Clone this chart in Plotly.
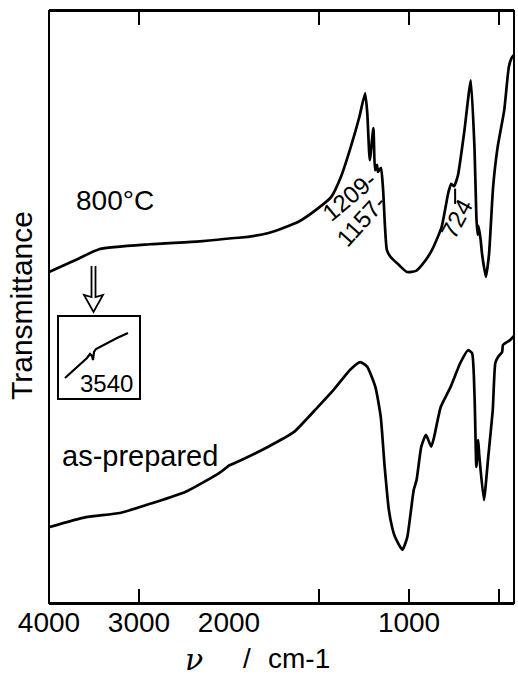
import plotly.graph_objects as go

# ---------------- data ----------------
wn_800 = [4000, 3711, 3436, 2880, 2326, 1946, 1780, 1614, 1504, 1432,
          1378, 1324, 1276, 1244, 1232, 1218, 1198, 1189, 1178, 1173,
          1156, 1144, 1123, 1101, 1056, 1011, 961, 928, 873, 819,
          782, 766, 750, 728, 692, 657, 636, 626, 619, 614,
          602, 595, 573, 556, 533, 508, 471, 446, 430, 417]
T_800 = [55.9, 57.9, 59.8, 60.6, 61.1, 61.7, 62.5, 64.4, 66.7, 68.6,
         72.0, 77.0, 82.1, 86.1, 82.8, 74.8, 80.2, 73.1, 74.0, 72.8,
         73.5, 69.8, 59.6, 58.4, 57.1, 55.9, 56.1, 57.1, 59.6, 63.5,
         69.3, 70.8, 70.4, 72.3, 79.9, 88.3, 76.5, 65.2, 62.2, 63.7,
         61.3, 59.1, 55.1, 58.8, 70.3, 77.0, 83.3, 90.5, 92.1, 92.6]

wn_ap = [4000, 3589, 3212, 2847, 2481, 2106, 1971, 1782, 1639, 1507,
         1419, 1327, 1271, 1232, 1187, 1157, 1137, 1112, 1094, 1077,
         1037, 1010, 989, 974, 958, 932, 906, 877, 861, 824,
         769, 716, 672, 650, 636, 626, 616, 610, 584, 560,
         535, 521, 505, 483, 478, 439, 423, 417]
T_ap = [12.8, 14.5, 15.2, 16.9, 18.8, 22.0, 23.6, 26.4, 28.9, 33.1,
        36.0, 39.4, 40.7, 39.9, 36.5, 31.4, 23.6, 15.7, 12.8, 11.1,
        9.0, 11.1, 15.7, 19.1, 20.8, 26.4, 28.4, 26.4, 28.0, 33.1,
        36.5, 40.5, 42.7, 42.2, 34.8, 23.0, 27.5, 25.0, 17.4, 24.7,
        32.6, 40.5, 41.6, 42.4, 43.6, 44.4, 44.9, 45.1]

# inset: magnified region around 3540 cm-1 of the 800 C spectrum
wn_in = [3652, 3604, 3564, 3552, 3544, 3540, 3536, 3528, 3484, 3444, 3400]
T_in = [20, 31, 40, 44, 42, 38, 46, 49, 55, 60, 65]

x_ticks_hi = [4000, 3000]
x_labels_hi = ["4000", "3000"]
x_ticks_lo = [2000, 1500, 1000, 500]
x_labels_lo = ["2000", "", "1000", ""]

peak_labels = ["1209-", "1157-", "724"]

# ---------------- layout helpers ----------------
W, H = 518, 699
L, R, T, B = 49, 514, 11, 603


def px(x):
    return (x - L) / (R - L)


def py(y):
    return (B - y) / (B - T)


split = 180 / (R - L)  # 4000-2000 occupies half the per-unit width
FONT = "Liberation Sans, Arial, sans-serif"
lw = 2.7
line_style = dict(color="black", width=lw, shape="spline", smoothing=0.5)

fig = go.Figure()
for xa in ["x", "x2"]:
    fig.add_trace(go.Scatter(x=wn_800, y=T_800, xaxis=xa, yaxis="y", mode="lines",
                             line=line_style, showlegend=False, hoverinfo="skip"))
    fig.add_trace(go.Scatter(x=wn_ap, y=T_ap, xaxis=xa, yaxis="y", mode="lines",
                             line=line_style, showlegend=False, hoverinfo="skip"))
fig.add_trace(go.Scatter(x=wn_in, y=T_in, xaxis="x3", yaxis="y3", mode="lines",
                         line=dict(color="black", width=2.2), showlegend=False,
                         hoverinfo="skip"))

axis_common = dict(showgrid=False, zeroline=False, showline=True, mirror="ticks",
                   linecolor="black", linewidth=2, ticks="inside", ticklen=14,
                   tickwidth=2, tickcolor="black", ticklabelstandoff=-7,
                   tickfont=dict(family=FONT, size=28, color="black"))

fig.update_layout(
    width=W, height=H,
    margin=dict(l=L, r=W - R, t=T, b=H - B),
    paper_bgcolor="white", plot_bgcolor="white",
    xaxis=dict(domain=[0, split], range=[4000, 2000], tickvals=x_ticks_hi,
               ticktext=x_labels_hi, anchor="y", **axis_common),
    xaxis2=dict(domain=[split, 1], range=[2000, 417], tickvals=x_ticks_lo,
                ticktext=x_labels_lo, anchor="y", **axis_common),
    yaxis=dict(domain=[0, 1], range=[0, 100], showgrid=False, zeroline=False,
               showline=False, showticklabels=False, ticks="", anchor="x"),
    xaxis3=dict(domain=[px(59), px(139)], range=[3676, 3356], anchor="y3",
                showgrid=False, zeroline=False, showline=True, mirror=True,
                linecolor="black", linewidth=2, showticklabels=False, ticks=""),
    yaxis3=dict(domain=[py(398), py(317)], range=[0, 81], anchor="x3",
                showgrid=False, zeroline=False, showline=True, mirror=True,
                linecolor="black", linewidth=2, showticklabels=False, ticks=""),
)

# frame (left / right sides)
fig.add_shape(type="rect", xref="paper", yref="paper", x0=0, x1=1, y0=0, y1=1,
              line=dict(color="black", width=2), layer="above")

# hollow down arrow pointing to the 3540 region
arrow = [(91.5, 266), (91.5, 297), (84, 295), (93.5, 312), (103, 295), (95.5, 297), (95.5, 266)]
path = "M " + " L ".join(f"{px(a):.4f},{py(b):.4f}" for a, b in arrow)
fig.add_shape(type="path", xref="paper", yref="paper", path=path,
              line=dict(color="black", width=1.8))

# leader for 724
fig.add_shape(type="line", xref="x2", yref="y", x0=744, x1=744, y0=67.4, y1=70.0,
              line=dict(color="black", width=2))


def text(x, y, s, size=28, angle=0, family=FONT):
    fig.add_annotation(xref="paper", yref="paper", x=px(x), y=py(y), text=s,
                       showarrow=False, textangle=angle, xanchor="center",
                       yanchor="middle", font=dict(family=family, size=size, color="black"))


text(115, 200, "800°C", 28)
text(140, 456, "as-prepared", 29)
text(106, 383, "3540", 24)
text(349, 197, peak_labels[0], 24, -40)
text(361, 220, peak_labels[1], 24, -48)
text(457, 219, peak_labels[2], 24, -62)
text(21, 306, "Transmittance", 30, -90)
text(194, 659, "<i>ν</i>", 30, 0, "DejaVu Serif, serif")
text(247, 658, "/", 28)
text(299, 658, "cm-1", 28)

fig.write_html("out.html")
